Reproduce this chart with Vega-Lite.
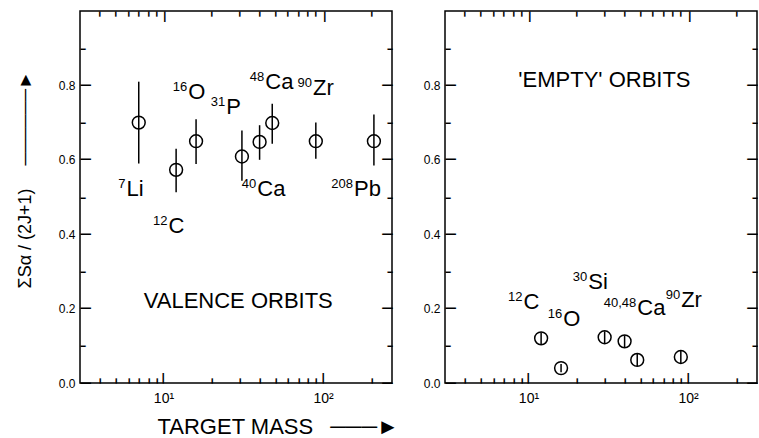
{
  "$schema": "https://vega.github.io/schema/vega-lite/v6.json",
  "padding": {"left": 15, "top": 10, "right": 0, "bottom": 0},
  "spacing": 53,
  "bounds": "flush",
  "config": {
    "view": {"stroke": "black", "strokeWidth": 1.5},
    "axis": {"domain": false, "ticks": false, "grid": false, "labelColor": "black", "labelFont": "Liberation Sans", "titleFont": "Liberation Sans", "titleFontWeight": "normal", "titleColor": "black", "labelOverlap": false, "labelFlush": false},
    "text": {"font": "Liberation Sans", "color": "black"}
  },
  "datasets": {
    "valence": [
      {"nucleus": "7Li", "A": 7, "S": 0.70, "lo": 0.59, "hi": 0.81},
      {"nucleus": "12C", "A": 12, "S": 0.573, "lo": 0.513, "hi": 0.63},
      {"nucleus": "16O", "A": 16, "S": 0.65, "lo": 0.589, "hi": 0.709},
      {"nucleus": "31P", "A": 31, "S": 0.609, "lo": 0.544, "hi": 0.679},
      {"nucleus": "40Ca", "A": 40, "S": 0.648, "lo": 0.60, "hi": 0.693},
      {"nucleus": "48Ca", "A": 48, "S": 0.699, "lo": 0.643, "hi": 0.751},
      {"nucleus": "90Zr", "A": 90, "S": 0.65, "lo": 0.603, "hi": 0.70},
      {"nucleus": "208Pb", "A": 208, "S": 0.65, "lo": 0.585, "hi": 0.722}
    ],
    "empty": [
      {"nucleus": "12C", "A": 12, "S": 0.12, "lo": 0.104, "hi": 0.136},
      {"nucleus": "16O", "A": 16, "S": 0.04, "lo": 0.029, "hi": 0.051},
      {"nucleus": "30Si", "A": 30, "S": 0.123, "lo": 0.107, "hi": 0.139},
      {"nucleus": "40Ca", "A": 40, "S": 0.112, "lo": 0.096, "hi": 0.128},
      {"nucleus": "48Ca", "A": 48, "S": 0.062, "lo": 0.046, "hi": 0.078},
      {"nucleus": "90Zr", "A": 90, "S": 0.07, "lo": 0.054, "hi": 0.086}
    ],
    "valenceLabels": [
      {"sup": "7", "el": "Li", "x": 5.87, "y": 0.502},
      {"sup": "12", "el": "C", "x": 10.74, "y": 0.402},
      {"sup": "16", "el": "O", "x": 14.3, "y": 0.763},
      {"sup": "31", "el": "P", "x": 24.7, "y": 0.724},
      {"sup": "48", "el": "Ca", "x": 43.4, "y": 0.789},
      {"sup": "90", "el": "Zr", "x": 86.5, "y": 0.774},
      {"sup": "40", "el": "Ca", "x": 38.7, "y": 0.502},
      {"sup": "208", "el": "Pb", "x": 156, "y": 0.502}
    ],
    "emptyLabels": [
      {"sup": "12", "el": "C", "x": 9.3, "y": 0.199},
      {"sup": "16", "el": "O", "x": 16.5, "y": 0.154},
      {"sup": "30", "el": "Si", "x": 23.7, "y": 0.252},
      {"sup": "40,48", "el": "Ca", "x": 48, "y": 0.183},
      {"sup": "90", "el": "Zr", "x": 90.4, "y": 0.203}
    ],
    "valenceTitle": [{"t": "VALENCE ORBITS", "x": 29.4, "y": 0.201}],
    "emptyTitle": [{"t": "'EMPTY' ORBITS", "x": 29.9, "y": 0.797}]
  },
  "hconcat": [
    {
      "width": 312,
      "height": 372,
      "resolve": {"axis": {"x": "independent", "y": "independent"}},
      "layer": [
        {
          "data": {"name": "valence"},
          "mark": {"type": "rule", "color": "black", "strokeWidth": 1.5},
          "encoding": {
            "x": {"field": "A", "type": "quantitative", "scale": {"type": "log", "domain": [3, 270], "nice": false},
              "axis": {"orient": "bottom", "values": [10, 100],
                "labelExpr": "datum.value == 10 ? '10¹' : '10²'",
                "labelPadding": 8, "labelFontSize": 14,
                "title": "TARGET MASS\u2002 ───►", "titleFontSize": 22, "titleAnchor": "start", "titleAlign": "left", "titleX": 77, "titleY": 50, "titleBaseline": "alphabetic"}},
            "y": {"field": "lo", "type": "quantitative", "scale": {"domain": [0, 1], "nice": false},
              "axis": {"orient": "left", "values": [0, 0.2, 0.4, 0.6, 0.8], "format": ".1f",
                "labelPadding": 5, "labelFontSize": 12,
                "title": "ΣSα / (2J+1)\u2003 ──────►", "titleFontSize": 18, "titleAnchor": "start", "titleY": 277, "titleX": -50, "titleBaseline": "alphabetic"}},
            "y2": {"field": "hi"}
          }
        },
        {
          "data": {"name": "valence"},
          "mark": {"type": "point", "shape": "circle", "filled": false, "stroke": "black", "strokeWidth": 1.5, "size": 165, "opacity": 1},
          "encoding": {
            "x": {"field": "A", "type": "quantitative", "scale": {"type": "log", "domain": [3, 270], "nice": false},
              "axis": {"orient": "bottom", "values": [10, 100], "title": null, "labelExpr": "'─'", "labelFont": "DejaVu Sans", "labelFontSize": 17, "labelAngle": 270, "labelAlign": "left", "labelBaseline": "middle", "labelPadding": 0}},
            "y": {"field": "S", "type": "quantitative", "scale": {"domain": [0, 1], "nice": false},
              "axis": {"orient": "left", "values": [0, 0.2, 0.4, 0.6, 0.8], "title": null, "labelExpr": "'─'", "labelFont": "DejaVu Sans", "labelFontSize": 17, "labelAlign": "left", "labelBaseline": "middle", "labelPadding": 0}}
          }
        },
        {
          "data": {"name": "valenceLabels"},
          "mark": {"type": "text", "fontSize": 13, "align": "right", "baseline": "alphabetic", "dy": -8, "dx": -1},
          "encoding": {
            "x": {"field": "x", "type": "quantitative",
              "axis": {"orient": "bottom", "values": [4,5,6,7,8,9,20,30,40,50,60,70,80,90,200], "title": null, "labelExpr": "'━'", "labelFont": "DejaVu Sans", "labelFontSize": 8.5, "labelAngle": 270, "labelAlign": "left", "labelBaseline": "middle", "labelPadding": 0}},
            "y": {"field": "y", "type": "quantitative",
              "axis": {"orient": "left", "values": [0.1, 0.3, 0.5, 0.7, 0.9], "title": null, "labelExpr": "'━'", "labelFont": "DejaVu Sans", "labelFontSize": 8.5, "labelAlign": "left", "labelBaseline": "middle", "labelPadding": 0}},
            "text": {"field": "sup"}
          }
        },
        {
          "data": {"name": "valenceLabels"},
          "mark": {"type": "text", "fontSize": 22, "align": "left", "baseline": "alphabetic"},
          "encoding": {
            "x": {"field": "x", "type": "quantitative",
              "axis": {"orient": "top", "values": [10, 100], "title": null, "labelExpr": "'─'", "labelFont": "DejaVu Sans", "labelFontSize": 17, "labelAngle": 90, "labelAlign": "left", "labelBaseline": "middle", "labelPadding": 0}},
            "y": {"field": "y", "type": "quantitative",
              "axis": {"orient": "right", "values": [0, 0.2, 0.4, 0.6, 0.8], "title": null, "labelExpr": "'─'", "labelFont": "DejaVu Sans", "labelFontSize": 17, "labelAlign": "right", "labelBaseline": "middle", "labelPadding": 0}},
            "text": {"field": "el"}
          }
        },
        {
          "data": {"name": "valenceTitle"},
          "mark": {"type": "text", "fontSize": 22, "align": "center", "baseline": "alphabetic"},
          "encoding": {
            "x": {"field": "x", "type": "quantitative",
              "axis": {"orient": "top", "values": [4,5,6,7,8,9,20,30,40,50,60,70,80,90,200], "title": null, "labelExpr": "'━'", "labelFont": "DejaVu Sans", "labelFontSize": 8.5, "labelAngle": 90, "labelAlign": "left", "labelBaseline": "middle", "labelPadding": 0}},
            "y": {"field": "y", "type": "quantitative",
              "axis": {"orient": "right", "values": [0.1, 0.3, 0.5, 0.7, 0.9], "title": null, "labelExpr": "'━'", "labelFont": "DejaVu Sans", "labelFontSize": 8.5, "labelAlign": "right", "labelBaseline": "middle", "labelPadding": 0}},
            "text": {"field": "t"}
          }
        }
      ]
    },
    {
      "width": 312,
      "height": 372,
      "resolve": {"axis": {"x": "independent", "y": "independent"}},
      "layer": [
        {
          "data": {"name": "empty"},
          "mark": {"type": "rule", "color": "black", "strokeWidth": 1.5},
          "encoding": {
            "x": {"field": "A", "type": "quantitative", "scale": {"type": "log", "domain": [3, 270], "nice": false},
              "axis": {"orient": "bottom", "values": [10, 100],
                "labelExpr": "datum.value == 10 ? '10¹' : '10²'",
                "labelPadding": 8, "labelFontSize": 14, "title": null}},
            "y": {"field": "lo", "type": "quantitative", "scale": {"domain": [0, 1], "nice": false},
              "axis": {"orient": "left", "values": [0, 0.2, 0.4, 0.6, 0.8], "format": ".1f",
                "labelPadding": 5, "labelFontSize": 12, "title": null}},
            "y2": {"field": "hi"}
          }
        },
        {
          "data": {"name": "empty"},
          "mark": {"type": "point", "shape": "circle", "filled": false, "stroke": "black", "strokeWidth": 1.5, "size": 165, "opacity": 1},
          "encoding": {
            "x": {"field": "A", "type": "quantitative", "scale": {"type": "log", "domain": [3, 270], "nice": false},
              "axis": {"orient": "bottom", "values": [10, 100], "title": null, "labelExpr": "'─'", "labelFont": "DejaVu Sans", "labelFontSize": 17, "labelAngle": 270, "labelAlign": "left", "labelBaseline": "middle", "labelPadding": 0}},
            "y": {"field": "S", "type": "quantitative", "scale": {"domain": [0, 1], "nice": false},
              "axis": {"orient": "left", "values": [0, 0.2, 0.4, 0.6, 0.8], "title": null, "labelExpr": "'─'", "labelFont": "DejaVu Sans", "labelFontSize": 17, "labelAlign": "left", "labelBaseline": "middle", "labelPadding": 0}}
          }
        },
        {
          "data": {"name": "emptyLabels"},
          "mark": {"type": "text", "fontSize": 13, "align": "right", "baseline": "alphabetic", "dy": -8, "dx": -1},
          "encoding": {
            "x": {"field": "x", "type": "quantitative",
              "axis": {"orient": "bottom", "values": [4,5,6,7,8,9,20,30,40,50,60,70,80,90,200], "title": null, "labelExpr": "'━'", "labelFont": "DejaVu Sans", "labelFontSize": 8.5, "labelAngle": 270, "labelAlign": "left", "labelBaseline": "middle", "labelPadding": 0}},
            "y": {"field": "y", "type": "quantitative",
              "axis": {"orient": "left", "values": [0.1, 0.3, 0.5, 0.7, 0.9], "title": null, "labelExpr": "'━'", "labelFont": "DejaVu Sans", "labelFontSize": 8.5, "labelAlign": "left", "labelBaseline": "middle", "labelPadding": 0}},
            "text": {"field": "sup"}
          }
        },
        {
          "data": {"name": "emptyLabels"},
          "mark": {"type": "text", "fontSize": 22, "align": "left", "baseline": "alphabetic"},
          "encoding": {
            "x": {"field": "x", "type": "quantitative",
              "axis": {"orient": "top", "values": [10, 100], "title": null, "labelExpr": "'─'", "labelFont": "DejaVu Sans", "labelFontSize": 17, "labelAngle": 90, "labelAlign": "left", "labelBaseline": "middle", "labelPadding": 0}},
            "y": {"field": "y", "type": "quantitative",
              "axis": {"orient": "right", "values": [0, 0.2, 0.4, 0.6, 0.8], "title": null, "labelExpr": "'─'", "labelFont": "DejaVu Sans", "labelFontSize": 17, "labelAlign": "right", "labelBaseline": "middle", "labelPadding": 0}},
            "text": {"field": "el"}
          }
        },
        {
          "data": {"name": "emptyTitle"},
          "mark": {"type": "text", "fontSize": 22, "align": "center", "baseline": "alphabetic"},
          "encoding": {
            "x": {"field": "x", "type": "quantitative",
              "axis": {"orient": "top", "values": [4,5,6,7,8,9,20,30,40,50,60,70,80,90,200], "title": null, "labelExpr": "'━'", "labelFont": "DejaVu Sans", "labelFontSize": 8.5, "labelAngle": 90, "labelAlign": "left", "labelBaseline": "middle", "labelPadding": 0}},
            "y": {"field": "y", "type": "quantitative",
              "axis": {"orient": "right", "values": [0.1, 0.3, 0.5, 0.7, 0.9], "title": null, "labelExpr": "'━'", "labelFont": "DejaVu Sans", "labelFontSize": 8.5, "labelAlign": "right", "labelBaseline": "middle", "labelPadding": 0}},
            "text": {"field": "t"}
          }
        }
      ]
    }
  ]
}
